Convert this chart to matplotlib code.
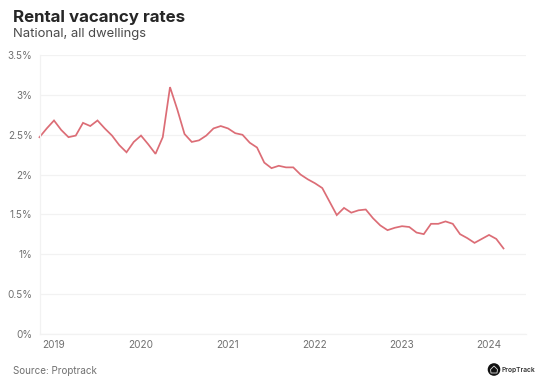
import matplotlib
matplotlib.use("Agg")
import matplotlib.pyplot as plt
from matplotlib.patches import Circle, Polygon

# monthly vacancy rate, Nov 2018 to Mar 2024
vacancy = [2.47, 2.58, 2.68, 2.56, 2.47, 2.49, 2.65, 2.61, 2.68, 2.58,
           2.49, 2.37, 2.28, 2.41, 2.49, 2.38, 2.26, 2.47, 3.10, 2.82,
           2.51, 2.41, 2.43, 2.49, 2.58, 2.61, 2.58, 2.52, 2.50, 2.40,
           2.34, 2.15, 2.08, 2.11, 2.09, 2.09, 2.00, 1.94, 1.89, 1.83,
           1.66, 1.49, 1.58, 1.52, 1.55, 1.56, 1.45, 1.36, 1.30, 1.33,
           1.35, 1.34, 1.27, 1.25, 1.38, 1.38, 1.41, 1.38, 1.25, 1.20,
           1.14, 1.19, 1.24, 1.19, 1.07]
months = list(range(len(vacancy)))
year_pos = [2, 14, 26, 38, 50, 62]
year_labels = ["2019", "2020", "2021", "2022", "2023", "2024"]
y_ticks = [0, 0.5, 1, 1.5, 2, 2.5, 3, 3.5]
y_labels = ["0%", "0.5%", "1%", "1.5%", "2%", "2.5%", "3%", "3.5%"]

W, H = 553, 386
plt.rcParams["font.family"] = ["Inter", "DejaVu Sans"]

fig = plt.figure(figsize=(W / 100, H / 100), dpi=100)
ax = fig.add_axes([39.5 / W, 1 - 333.5 / H, (526 - 39.5) / W, (333.5 - 55.3) / H])

ax.plot(months, vacancy, color="#dc6d76", lw=1.25, solid_joinstyle="miter", clip_on=False)

ax.set_xlim(0, 67.1)
ax.set_ylim(0, 3.5)
ax.set_xticks(year_pos)
ax.set_xticklabels(year_labels)
ax.set_yticks(y_ticks)
ax.set_yticklabels(y_labels)
ax.tick_params(axis="both", length=0, labelsize=7.2, labelcolor="#707070")
ax.tick_params(axis="x", pad=5)
ax.tick_params(axis="y", pad=5)
ax.grid(axis="y", color="#f2f2f2", lw=0.9)
ax.set_axisbelow(True)
for side in ["top", "right"]:
    ax.spines[side].set_visible(False)
for side in ["left", "bottom"]:
    ax.spines[side].set_color("#f2f2f2")
    ax.spines[side].set_linewidth(0.9)

fig.text(13 / W, 1 - 17.5 / H, "Rental vacancy rates", fontsize=12.2, fontweight="bold",
         color="#262626", va="center")
fig.text(13 / W, 1 - 33.5 / H, "National, all dwellings", fontsize=9.4,
         color="#4a4a4a", va="center")
fig.text(13 / W, 1 - 371.5 / H, "Source: Proptrack", fontsize=7.1,
         color="#707070", va="center")

# logo, drawn in pixel coords on the figure
logo = fig.add_axes([0, 0, 1, 1], facecolor="none")
logo.set_xlim(0, W)
logo.set_ylim(H, 0)
logo.axis("off")
logo.add_patch(Circle((494, 369.5), 5.6, color="#111111"))
logo.add_patch(Polygon([(490.5, 369.5), (494, 366), (497.5, 369.5), (497, 373), (491, 373)],
                       closed=True, fc="none", ec="#dddddd", lw=0.6))
logo.text(501.5, 370, "PropTrack", fontsize=4.8, fontweight="semibold", color="#333333", va="center")

fig.savefig("out.png", dpi=100)
